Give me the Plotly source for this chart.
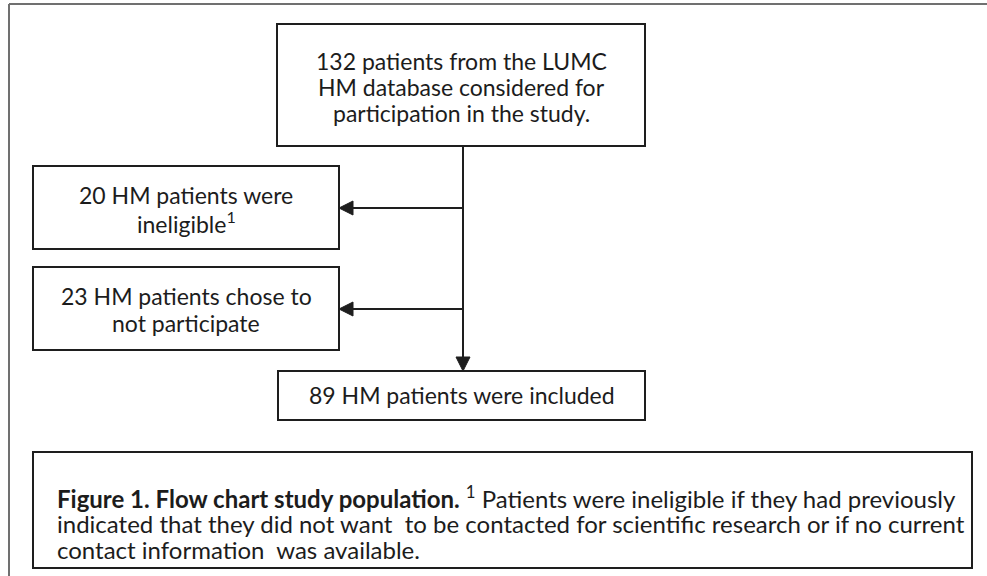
import plotly.graph_objects as go

# ---- content ----
top_text = ["132 patients from the LUMC", "HM database considered for", "participation in the study."]
excl1_text = ["20 HM patients were", "ineligible<sup>1</sup>"]
excl2_text = ["23 HM patients chose to", "not participate"]
incl_text = ["89 HM patients were included"]
caption_lines = [
    "<b>Figure 1. Flow chart study population.</b> <sup>1</sup> Patients were ineligible if they had previously",
    "indicated that they did not want  to be contacted for scientific research or if no current",
    "contact information  was available.",
]

# ---- layout geometry (page pixel space) ----
W, H = 987, 576
boxes = {
    "top":   (277, 645, 24, 146),
    "excl1": (33, 339, 166, 249),
    "excl2": (33, 339, 267, 350),
    "incl":  (278, 645, 371, 420),
    "cap":   (33, 972, 452, 568),
}
line_y = {
    "top": [61, 87, 113],
    "excl1": [195, 222],
    "excl2": [296, 323],
    "incl": [395],
    "cap": [497, 523, 549],
}
spine_x = 463
arrow_y = [208, 309]
HEAD_L, HEAD_W = 14, 7

FONT = "Lato"
FS = 23
FS_CAP = 24
TXT = "#1c1c1c"
LINE = "#1e1e1e"

fig = go.Figure()
shapes = []
# outer frame (only top and left edge visible)
shapes.append(dict(type="line", x0=9, y0=4, x1=W + 10, y1=4, line=dict(color="#707070", width=2)))
shapes.append(dict(type="line", x0=9, y0=4, x1=9, y1=H + 10, line=dict(color="#707070", width=2)))
for k, (x0, x1, y0, y1) in boxes.items():
    shapes.append(dict(type="rect", x0=x0, x1=x1, y0=y0, y1=y1,
                       line=dict(color=LINE, width=2), fillcolor="white"))

# spine and connectors
tip_y = boxes["incl"][2]
shapes.append(dict(type="line", x0=spine_x, x1=spine_x, y0=boxes["top"][3], y1=tip_y - HEAD_L + 1,
                   line=dict(color=LINE, width=2)))
shapes.append(dict(type="path",
                   path=f"M{spine_x},{tip_y} L{spine_x - HEAD_W},{tip_y - HEAD_L} L{spine_x + HEAD_W},{tip_y - HEAD_L} Z",
                   fillcolor=LINE, line=dict(color=LINE, width=1)))
tip_x = boxes["excl1"][1]
for yy in arrow_y:
    shapes.append(dict(type="line", x0=tip_x + HEAD_L - 1, x1=spine_x, y0=yy, y1=yy,
                       line=dict(color=LINE, width=2)))
    shapes.append(dict(type="path",
                       path=f"M{tip_x},{yy} L{tip_x + HEAD_L},{yy - HEAD_W} L{tip_x + HEAD_L},{yy + HEAD_W} Z",
                       fillcolor=LINE, line=dict(color=LINE, width=1)))

annotations = []


def center_text(key, lines):
    x0, x1, y0, y1 = boxes[key]
    for ln, yy in zip(lines, line_y[key]):
        annotations.append(dict(x=(x0 + x1) / 2, y=yy, xref="x", yref="y",
                                text=ln, showarrow=False, align="center",
                                font=dict(family=FONT, size=FS, color=TXT)))


center_text("top", top_text)
center_text("excl1", excl1_text)
center_text("excl2", excl2_text)
center_text("incl", incl_text)

cx0 = boxes["cap"][0]
for ln, yy in zip(caption_lines, line_y["cap"]):
    annotations.append(dict(x=cx0 + 22, y=yy, xref="x", yref="y", xanchor="left",
                            text=ln, showarrow=False, align="left",
                            font=dict(family=FONT, size=FS_CAP, color=TXT)))

fig.update_layout(
    width=W, height=H, margin=dict(l=0, r=0, t=0, b=0),
    paper_bgcolor="white", plot_bgcolor="white",
    xaxis=dict(range=[0, W], visible=False, fixedrange=True),
    yaxis=dict(range=[H, 0], visible=False, fixedrange=True),
    shapes=shapes, annotations=annotations, showlegend=False,
)
fig.write_html("out.html", config={"displayModeBar": False},
               post_script="document.body.style.margin='0';document.body.style.overflow='hidden';")
